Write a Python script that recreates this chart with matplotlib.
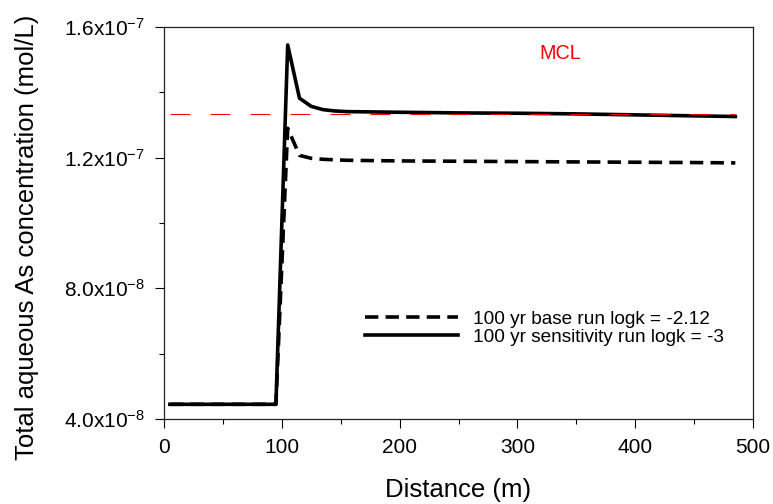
import matplotlib
matplotlib.use("Agg")
import matplotlib.pyplot as plt
from matplotlib.ticker import MultipleLocator, FixedLocator

plt.rcParams['font.family'] = ['Liberation Sans', 'DejaVu Sans']
plt.rcParams['mathtext.default'] = 'regular'

# ---- data ----
distance_sens = [5, 95, 105, 115, 125, 135, 145, 155, 200, 250, 300, 350, 400, 450, 485]
conc_sens = [4.45e-8, 4.45e-8, 1.545e-7, 1.382e-7, 1.357e-7, 1.347e-7, 1.343e-7, 1.341e-7,
             1.339e-7, 1.337e-7, 1.336e-7, 1.334e-7, 1.331e-7, 1.328e-7, 1.326e-7]

distance_base = [5, 95, 105, 115, 125, 135, 155, 200, 250, 300, 350, 400, 450, 485]
conc_base = [4.45e-8, 4.45e-8, 1.29e-7, 1.207e-7, 1.198e-7, 1.195e-7, 1.192e-7,
             1.190e-7, 1.189e-7, 1.188e-7, 1.187e-7, 1.186e-7, 1.185e-7, 1.184e-7]

mcl_x = [5, 485]
mcl_value = 1.335e-7
mcl_label_pos = (336, 1.52e-7)

label_base = "100 yr base run logk = -2.12"
label_sens = "100 yr sensitivity run logk = -3"

yticks = [4.0e-8, 8.0e-8, 1.2e-7, 1.6e-7]
yticklabels = ["4.0x10$^{-8}$", "8.0x10$^{-8}$", "1.2x10$^{-7}$", "1.6x10$^{-7}$"]
xticks = [0, 100, 200, 300, 400, 500]

# ---- figure ----
fig = plt.figure(figsize=(7.73, 5.04), dpi=100)
ax = fig.add_axes([164/773, 1 - 419/504, (753 - 164)/773, (419 - 27)/504])

ax.plot(distance_base, conc_base, color='black', lw=2.6,
        linestyle=(0, (3.7, 2.0)), label=label_base, solid_joinstyle='round')
ax.plot(distance_sens, conc_sens, color='black', lw=2.6, label=label_sens,
        solid_joinstyle='round')
ax.plot(mcl_x, [mcl_value, mcl_value], color='red', lw=0.8,
        linestyle=(0, (18, 18)))

ax.text(mcl_label_pos[0], mcl_label_pos[1], "MCL", color='red', fontsize=14.3,
        ha='center', va='center')

ax.set_xlim(0, 500)
ax.set_ylim(4.0e-8, 1.6e-7)
ax.xaxis.set_major_locator(FixedLocator(xticks))
ax.xaxis.set_minor_locator(MultipleLocator(50))
ax.yaxis.set_major_locator(FixedLocator(yticks))
ax.yaxis.set_minor_locator(MultipleLocator(2e-8))
ax.set_yticklabels(yticklabels)
ax.set_xticklabels([str(v) for v in xticks])

ax.tick_params(which='major', direction='out', length=6.5, width=0.8,
               labelsize=15, pad=7, top=False, right=False)
ax.tick_params(which='minor', direction='out', length=3.5, width=0.8,
               top=False, right=False)
for s in ax.spines.values():
    s.set_linewidth(0.9)
    s.set_color('#222222')

ax.set_xlabel("Distance (m)", fontsize=18.5, labelpad=15)
ax.set_ylabel("Total aqueous As concentration (mol/L)", fontsize=18.5)
ax.yaxis.label.set_verticalalignment('center')
ax.yaxis.set_label_coords((27 - 164) / 589, (419 - 237) / 392)

leg = ax.legend(loc='center left', bbox_to_anchor=(365/773, 1 - 328/504),
                bbox_transform=fig.transFigure, frameon=False, fontsize=13.7,
                handlelength=4.9, handletextpad=0.8, labelspacing=0.05,
                borderpad=0, borderaxespad=0)

fig.savefig("out.png", dpi=100)
